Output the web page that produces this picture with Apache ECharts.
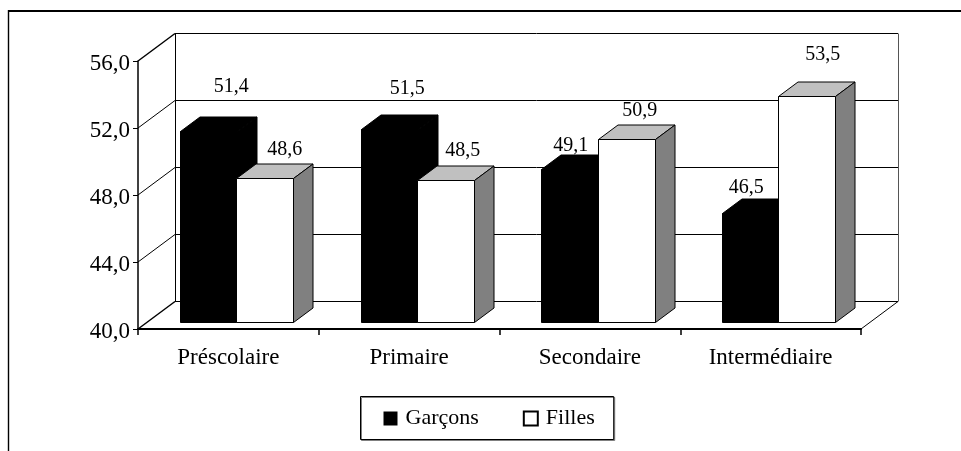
<!DOCTYPE html>
<html>
<head>
<meta charset="utf-8">
<style>html,body{margin:0;padding:0;background:#fff}#c{width:961px;height:451px}</style>
<script src="https://cdn.jsdelivr.net/npm/echarts@6/dist/echarts.min.js"></script>
</head>
<body>
<div id="c"></div>
<script>
const categories = ['Préscolaire', 'Primaire', 'Secondaire', 'Intermédiaire'];
const garcons = [51.4, 51.5, 49.1, 46.5];
const filles = [48.6, 48.5, 50.9, 53.5];
const yTicks = [40, 44, 48, 52, 56];
const garconsLabelNudge = [[12.5, -30], [7.5, -26], [-9, -9], [-14.5, -11]];
const fillesLabelNudge = [[10, -14], [7, -15], [3, -14], [6, -27]];

const FONT = '"Liberation Serif","Times New Roman",serif';
const WALL_DX = 37, WALL_DY = -28;
const BAR_W = 56.8, BAR_DX = 19.5, BAR_DY = -14.5, BAR_OX = 8.2, BAR_OY = -6.6;
const snap = v => Math.round(v - 0.5) + 0.5;

function line(x1, y1, x2, y2, stroke, lineWidth) {
  return { type: 'line', shape: { x1, y1, x2, y2 }, style: { stroke: stroke || '#000', lineWidth: lineWidth || 1, fill: null } };
}
function wallItem(params, api) {
  const v = api.value(1);
  const cs = params.coordSys;
  const y = api.coord([0, v])[1];
  const left = cs.x, right = cs.x + cs.width;
  const by = snap(y + WALL_DY);
  const bl = left + WALL_DX, br = right + WALL_DX;
  const isEnd = v === yTicks[0] || v === yTicks[yTicks.length - 1];
  const children = [
    line(left, y, bl, by, '#000', isEnd ? 1.5 : 1),
    line(bl, by, br, by)
  ];
  if (v === yTicks[0]) {
    children.push(line(right, y, br, by, '#000', 1));
    const topY = snap(api.coord([0, yTicks[yTicks.length - 1]])[1] + WALL_DY);
    children.push(line(snap(bl), topY, snap(bl), by));
    children.push(line(snap(br), topY, snap(br), by, '#555'));
  }
  return { type: 'group', children };
}
function barItem(left0, nudges, solid) {
  return function (params, api) {
    const i = api.value(0), v = api.value(1);
    const top = api.coord([i, v]);
    const base = api.coord([i, yTicks[0]]);
    const x0 = snap(top[0] + BAR_OX + left0);
    const x1 = snap(x0 + BAR_W);
    const yT = snap(top[1] + BAR_OY);
    const yB = snap(base[1] + BAR_OY);
    const xb0 = x0 + BAR_DX, xb1 = x1 + BAR_DX, yTb = yT + BAR_DY, yBb = yB + BAR_DY;
    const poly = (points, fill, stroke) => ({
      type: 'polygon', shape: { points },
      style: { fill, stroke, lineWidth: 1, lineJoin: 'miter' }
    });
    const n = nudges[i];
    return {
      type: 'group',
      children: [
        poly([[x0, yT], [x1, yT], [xb1, yTb], [xb0, yTb]], solid ? '#000' : '#c0c0c0', '#000'),
        poly([[x1, yT], [xb1, yTb], [xb1, yBb], [x1, yB]], solid ? '#000' : '#808080', '#000'),
        poly([[x0, yT], [x1, yT], [x1, yB], [x0, yB]], solid ? '#000' : '#fff', '#000'),
        {
          type: 'text',
          style: {
            text: v.toFixed(1).replace('.', ','),
            x: x0 + BAR_W / 2 + BAR_DX / 2 + n[0],
            y: yTb + n[1],
            align: 'center', verticalAlign: 'middle',
            font: '20px ' + FONT, fill: '#000'
          }
        }
      ]
    };
  };
}

const chart = echarts.init(document.getElementById('c'), null, { renderer: 'canvas' });
chart.setOption({
  animation: false,
  backgroundColor: '#fff',
  textStyle: { fontFamily: FONT },
  grid: { left: 138, right: 100, top: 61, bottom: 122 },
  graphic: [
    { type: 'line', silent: true, shape: { x1: 8.5, y1: 11, x2: 961, y2: 11 }, style: { stroke: '#000', lineWidth: 2 } },
    { type: 'line', silent: true, shape: { x1: 8.5, y1: 10, x2: 8.5, y2: 451 }, style: { stroke: '#000', lineWidth: 1.4 } }
  ],
  legend: {
    show: true,
    data: ['Garçons', 'Filles'],
    left: 360.5, top: 396.5,
    orient: 'horizontal',
    itemWidth: 14, itemHeight: 14, itemGap: 44,
    padding: [11, 19, 10, 23],
    backgroundColor: '#fff',
    borderColor: '#000', borderWidth: 1, borderRadius: 0,
    shadowColor: '#808080', shadowBlur: 0, shadowOffsetX: 1, shadowOffsetY: 1,
    icon: 'rect',
    selectedMode: false,
    textStyle: { fontFamily: FONT, fontSize: 22, color: '#000', padding: [0, 0, 0, 3] }
  },
  xAxis: {
    type: 'category',
    data: categories,
    boundaryGap: true,
    axisLine: { show: true, lineStyle: { color: '#000', width: 2 } },
    axisTick: { show: true, length: 6, alignWithLabel: false, lineStyle: { color: '#000', width: 1.5 } },
    axisLabel: { color: '#000', fontFamily: FONT, fontSize: 23, margin: 17 }
  },
  yAxis: {
    type: 'value',
    min: 40, max: 56, interval: 4,
    axisLine: { show: true, onZero: false, lineStyle: { color: '#000', width: 1.5 } },
    axisTick: { show: true, length: 5, lineStyle: { color: '#000', width: 1 } },
    splitLine: { show: false },
    axisLabel: {
      color: '#000', fontFamily: FONT, fontSize: 23, margin: 8,
      formatter: v => '{a|' + v.toFixed(1).replace('.', ',') + '}',
      rich: { a: { color: '#000', fontFamily: FONT, fontSize: 23, padding: [5, 0, 0, 0] } }
    }
  },
  series: [
    {
      type: 'custom', name: 'walls', z: 1, silent: true, clip: false,
      renderItem: wallItem,
      encode: { x: 0, y: 1 },
      data: yTicks.map(t => [0, t])
    },
    {
      type: 'custom', name: 'Garçons', z: 2, clip: false,
      renderItem: barItem(-BAR_W + 0.5, garconsLabelNudge, true),
      encode: { x: 0, y: 1 },
      itemStyle: { color: '#000', borderColor: '#000' },
      data: garcons.map((v, i) => [i, v])
    },
    {
      type: 'custom', name: 'Filles', z: 3, clip: false,
      renderItem: barItem(0, fillesLabelNudge, false),
      encode: { x: 0, y: 1 },
      itemStyle: { color: '#fff', borderColor: '#000', borderWidth: 1 },
      data: filles.map((v, i) => [i, v])
    }
  ]
});
</script>
</body>
</html>
